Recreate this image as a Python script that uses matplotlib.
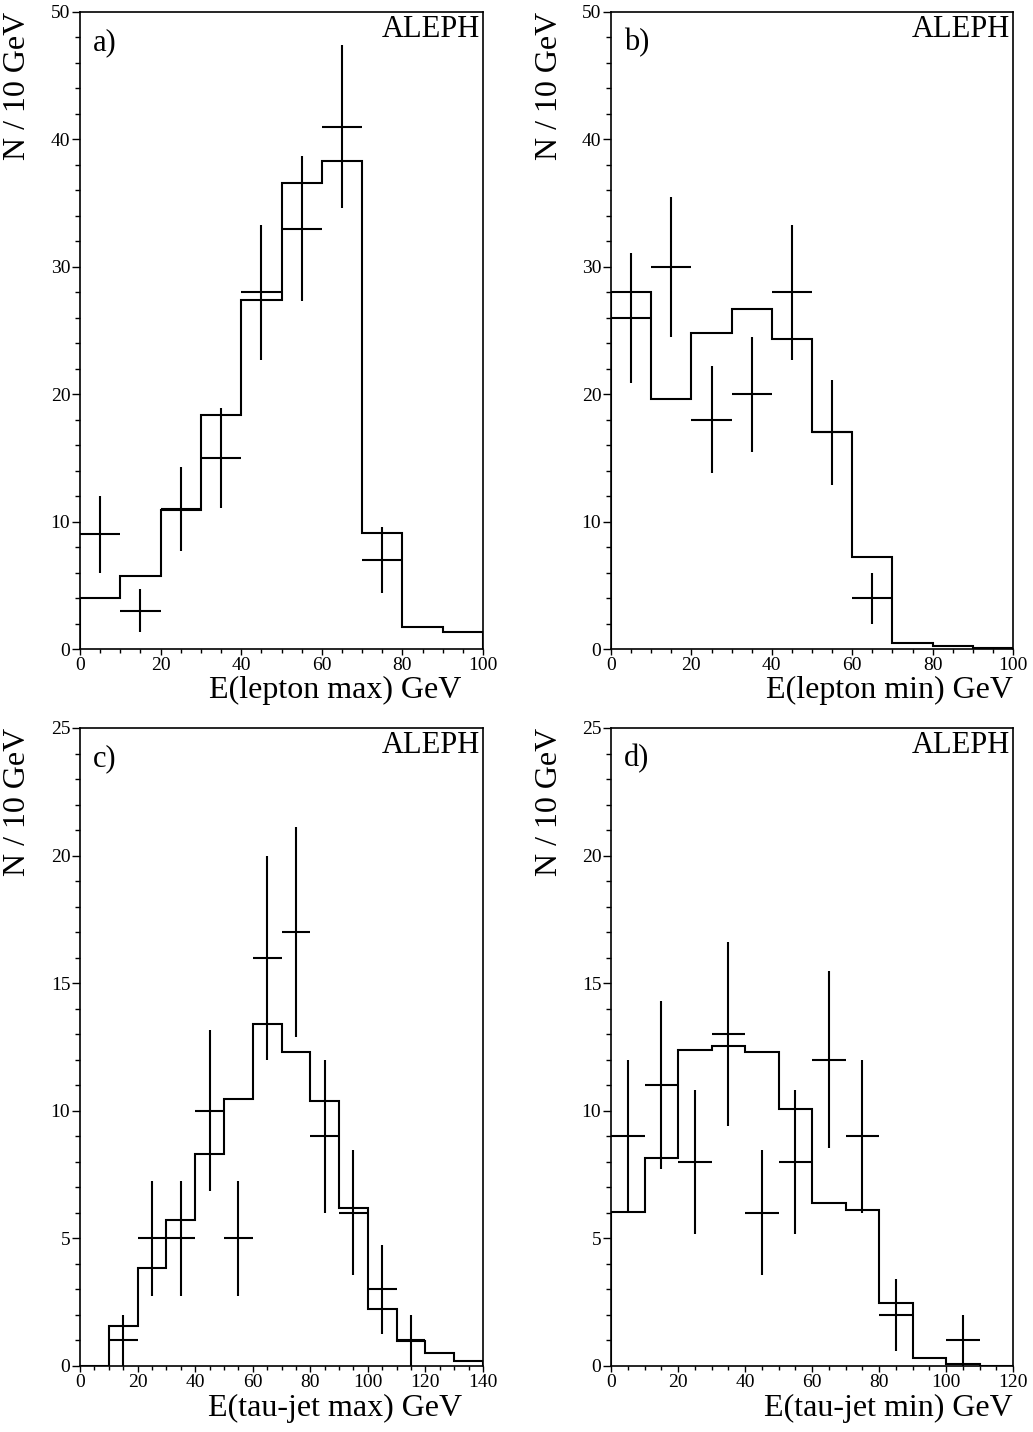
import numpy as np
from matplotlib import pyplot as plt
from matplotlib.ticker import MultipleLocator

plt.rcParams['font.family'] = ['Liberation Serif', 'DejaVu Serif']

# a) E(lepton max)
edges_a = np.arange(0, 101, 10)
mc_a = [4.0, 5.7, 10.9, 18.4, 27.4, 36.6, 38.3, 9.1, 1.7, 1.3]
x_a = [5, 15, 25, 35, 45, 55, 65, 75]
n_a = [9, 3, 11, 15, 28, 33, 41, 7]
err_a = [3.0, 1.7, 3.3, 3.9, 5.3, 5.7, 6.4, 2.6]

# b) E(lepton min)
edges_b = np.arange(0, 101, 10)
mc_b = [28.0, 19.6, 24.8, 26.7, 24.3, 17.0, 7.2, 0.5, 0.25, 0.1]
x_b = [5, 15, 25, 35, 45, 55, 65]
n_b = [26, 30, 18, 20, 28, 17, 4]
err_b = [5.1, 5.5, 4.2, 4.5, 5.3, 4.1, 2.0]

# c) E(tau-jet max)
edges_c = np.arange(0, 141, 10)
mc_c = [0.0, 1.56, 3.83, 5.73, 8.29, 10.47, 13.41, 12.31, 10.37, 6.19, 2.22, 0.98, 0.52, 0.21]
x_c = [15, 25, 35, 45, 55, 65, 75, 85, 95, 105, 115]
n_c = [1, 5, 5, 10, 5, 16, 17, 9, 6, 3, 1]
err_c = [1.0, 2.24, 2.24, 3.16, 2.24, 4.0, 4.12, 3.0, 2.45, 1.73, 1.0]

# d) E(tau-jet min)
edges_d = np.arange(0, 121, 10)
mc_d = [6.03, 8.16, 12.38, 12.52, 12.29, 10.09, 6.4, 6.12, 2.47, 0.3, 0.07, 0.0]
x_d = [5, 15, 25, 35, 45, 55, 65, 75, 85, 105]
n_d = [9, 11, 8, 13, 6, 8, 12, 9, 2, 1]
err_d = [3.0, 3.3, 2.83, 3.6, 2.45, 2.83, 3.46, 3.0, 1.41, 1.0]

W, H = 1033, 1432
fig = plt.figure(figsize=(W / 100, H / 100), dpi=100)


def panel(rect, edges, mc, xs, ns, errs, ymax, ymaj, ymin_, xlab, tag, xlab_x):
    l, t, w, h = rect
    ax = fig.add_axes([l / W, 1 - (t + h) / H, w / W, h / H])
    ax.stairs(mc, edges, color='black', lw=1.5, baseline=0)
    ax.errorbar(xs, ns, xerr=5, yerr=errs, fmt='none', ecolor='black', elinewidth=1.5, capsize=0)
    ax.set_xlim(edges[0], edges[-1])
    ax.set_ylim(0, ymax)
    ax.xaxis.set_major_locator(MultipleLocator(20))
    ax.xaxis.set_minor_locator(MultipleLocator(5))
    ax.yaxis.set_major_locator(MultipleLocator(ymaj))
    ax.yaxis.set_minor_locator(MultipleLocator(ymin_))
    ax.tick_params(which='both', direction='out', top=False, right=False, labelsize=14, width=1)
    ax.tick_params(axis='y', which='major', length=6, pad=1)
    ax.tick_params(axis='y', which='minor', length=3.5)
    ax.tick_params(axis='x', which='major', length=4, pad=1.5)
    ax.tick_params(axis='x', which='minor', length=3)
    for s in ax.spines.values():
        s.set_linewidth(1.2)
    ax.set_xlabel(xlab, fontsize=23, loc='right')
    ax.xaxis.set_label_coords(xlab_x, -0.043)
    ax.set_ylabel('N / 10 GeV', fontsize=23, loc='top')
    ax.yaxis.set_label_coords(-0.118, 1.0)
    ax.text(0.993, 0.995, 'ALEPH', transform=ax.transAxes, ha='right', va='top', fontsize=22)
    ax.text(0.032, 0.975, tag, transform=ax.transAxes, ha='left', va='top', fontsize=22)
    return ax


panel((80, 12, 403, 637), edges_a, mc_a, x_a, n_a, err_a, 50, 10, 2,
      'E(lepton max) GeV', 'a)', 0.947)
panel((611, 12, 402, 637), edges_b, mc_b, x_b, n_b, err_b, 50, 10, 2,
      'E(lepton min) GeV', 'b)', 1.0)
panel((80, 728, 403, 638), edges_c, mc_c, x_c, n_c, err_c, 25, 5, 1,
      'E(tau-jet max) GeV', 'c)', 0.947)
panel((611, 728, 402, 638), edges_d, mc_d, x_d, n_d, err_d, 25, 5, 1,
      'E(tau-jet min) GeV', 'd)', 1.0)

fig.savefig('out.png', dpi=100)
